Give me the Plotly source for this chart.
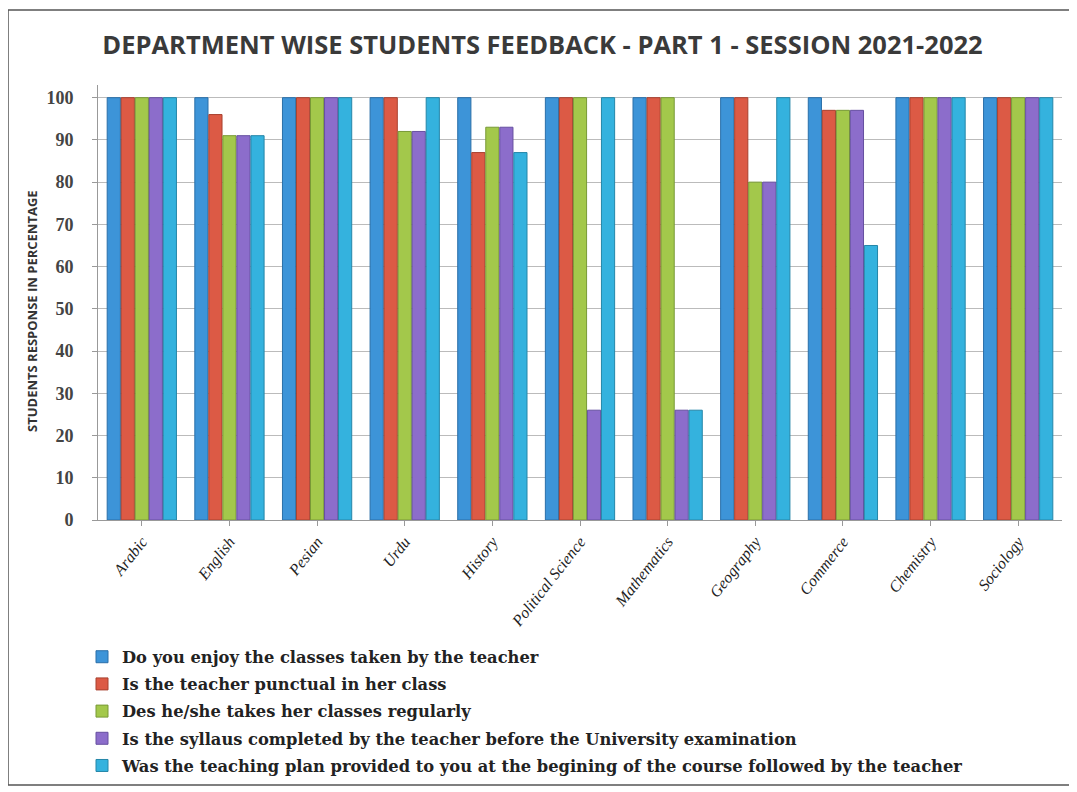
import plotly.graph_objects as go

departments = ["Arabic", "English", "Pesian", "Urdu", "History", "Political Science",
               "Mathematics", "Geography", "Commerce", "Chemistry", "Sociology"]

q_enjoy = [100, 100, 100, 100, 100, 100, 100, 100, 100, 100, 100]
q_punctual = [100, 96, 100, 100, 87, 100, 100, 100, 97, 100, 100]
q_regular = [100, 91, 100, 92, 93, 100, 100, 80, 97, 100, 100]
q_syllabus = [100, 91, 100, 92, 93, 26, 26, 80, 97, 100, 100]
q_plan = [100, 91, 100, 100, 87, 100, 26, 100, 65, 100, 100]

series_names = [
    "Do you enjoy the classes taken by the teacher",
    "Is the teacher punctual in her class",
    "Des he/she takes her classes regularly",
    "Is the syllaus completed by the teacher before the University examination",
    "Was the teaching plan provided to you at the begining of the course followed by the teacher",
]
series_values = [q_enjoy, q_punctual, q_regular, q_syllabus, q_plan]
colors = ["#3d94d8", "#dc5a45", "#a3c84b", "#8c6dcb", "#34b2de"]
edge_colors = ["#2a6fa8", "#a8402f", "#789936", "#6650a0", "#2486a8"]

y_ticks = [0, 10, 20, 30, 40, 50, 60, 70, 80, 90, 100]

fig = go.Figure()
for i, (name, vals) in enumerate(zip(series_names, series_values)):
    fig.add_trace(go.Bar(
        x=departments, y=vals, name=name,
        marker=dict(color=colors[i], line=dict(color=edge_colors[i], width=1)),
        legendgroup=f"g{i}",
    ))

W, H = 1069, 784
PL, PR, PT, PB = 90, 1054, 77, 512
PW, PH = PR - PL, PB - PT

serif = "Liberation Serif"
fig.update_layout(
    width=W, height=H,
    paper_bgcolor="white", plot_bgcolor="white",
    margin=dict(l=PL, r=W - PR, t=PT, b=H - PB, autoexpand=False),
    barmode="group", bargap=0.2, bargroupgap=0.06,
    title=dict(text="DEPARTMENT WISE STUDENTS FEEDBACK - PART 1 - SESSION 2021-2022",
               x=0.5, xanchor="center", y=1 - 37 / H, yanchor="middle",
               font=dict(family="Open Sans", size=25.5, color="#3a3a3a", weight="bold")),
    showlegend=True,
    legend=dict(orientation="v", x=-16 / PW, xanchor="left", y=-0.275, yanchor="top",
                font=dict(family="DejaVu Serif", size=16.3, color="#222222", weight="bold"),
                tracegroupgap=3, itemwidth=30, bgcolor="rgba(0,0,0,0)"),
    xaxis=dict(tickangle=-52, showline=True, linecolor="#999999",
               ticks="outside", tickcolor="#999999", ticklen=5,
               tickfont=dict(family=serif, size=16, color="#222222", style="italic")),
    yaxis=dict(range=[0, 103], tickvals=y_ticks, showgrid=True, gridcolor="#bbbbbb",
               showline=True, linecolor="#999999", ticks="outside", tickcolor="#999999",
               ticklen=5, zeroline=False, ticklabelstandoff=15,
               tickfont=dict(family=serif, size=18, color="#444444", weight="bold")),
    annotations=[dict(text="STUDENTS RESPONSE IN PERCENTAGE", xref="paper", yref="paper",
                      x=(24 - PL) / PW, y=(PB - 303) / PH, xanchor="center", yanchor="middle",
                      textangle=-90, showarrow=False,
                      font=dict(family="Open Sans", size=13, color="#333333", weight="bold"))],
    shapes=[dict(type="rect", xref="paper", yref="paper",
                 x0=(0 - PL) / PW, x1=(1062 - PL) / PW,
                 y0=(PB - 777) / PH, y1=(PB - 2) / PH,
                 line=dict(color="#555555", width=1.5))],
)

fig.write_html("out.html")
